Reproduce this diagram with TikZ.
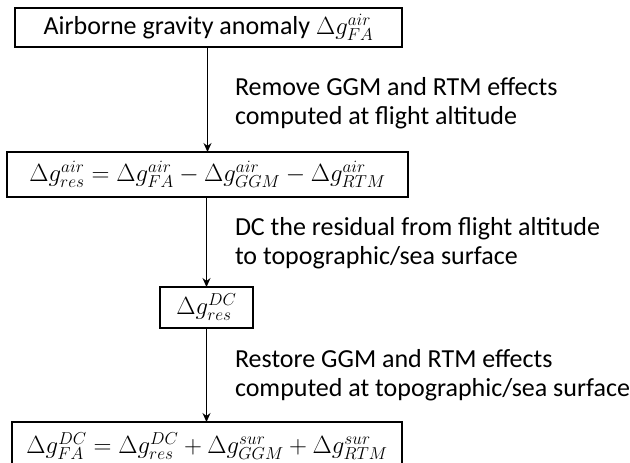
\documentclass[tikz,border=0pt]{standalone}
\usepackage{fontspec}
\setmainfont{Carlito}
\usetikzlibrary{arrows.meta}
\newlength{\du}
\setlength{\du}{1pt}

\begin{document}
\begin{tikzpicture}[x=1pt,y=-1pt,
  boxnode/.style={draw,line width=1.1pt,inner sep=0pt,outer sep=0pt,
    font=\fontsize{26}{28}\selectfont},
  stepnote/.style={anchor=base west,align=left,inner sep=0pt,outer sep=0pt,
    font=\fontsize{26}{29}\selectfont},
  flowarrow/.style={line width=1.1pt,-{Stealth[length=9pt,width=8pt]}}]
\useasboundingbox (0,0) rectangle (630,463);
% boxes
\node[boxnode,minimum width=387\du,minimum height=39\du] (air) at (208.5,27.5)
  {Airborne gravity anomaly $\Delta g_{FA}^{air}$};
\node[boxnode,minimum width=401\du,minimum height=45\du] (res) at (207.5,174.5)
  {$\Delta g_{res}^{air}=\Delta g_{FA}^{air}-\Delta g_{GGM}^{air}-\Delta g_{RTM}^{air}$};
\node[boxnode,minimum width=93\du,minimum height=41\du] (dc) at (206.5,307.5)
  {$\Delta g_{res}^{DC}$};
\node[boxnode,minimum width=390\du,minimum height=48\du] (sur) at (207,446)
  {$\Delta g_{FA}^{DC}=\Delta g_{res}^{DC}+\Delta g_{GGM}^{sur}+\Delta g_{RTM}^{sur}$};
% step notes (base = last line)
\node[stepnote] (remove) at (235,124)
  {Remove GGM and RTM effects\\computed at flight altitude};
\node[stepnote] (down) at (235,264)
  {DC the residual from flight altitude\\to topographic/sea surface};
\node[stepnote] (restore) at (235,396)
  {Restore GGM and RTM effects\\computed at topographic/sea surface};
% arrows
\draw[flowarrow] (air.south -| res.north) -- (res.north);
\draw[flowarrow] (res.south -| dc.north) -- (dc.north);
\draw[flowarrow] (dc.south) -- (dc.south |- sur.north);
\end{tikzpicture}
\end{document}
